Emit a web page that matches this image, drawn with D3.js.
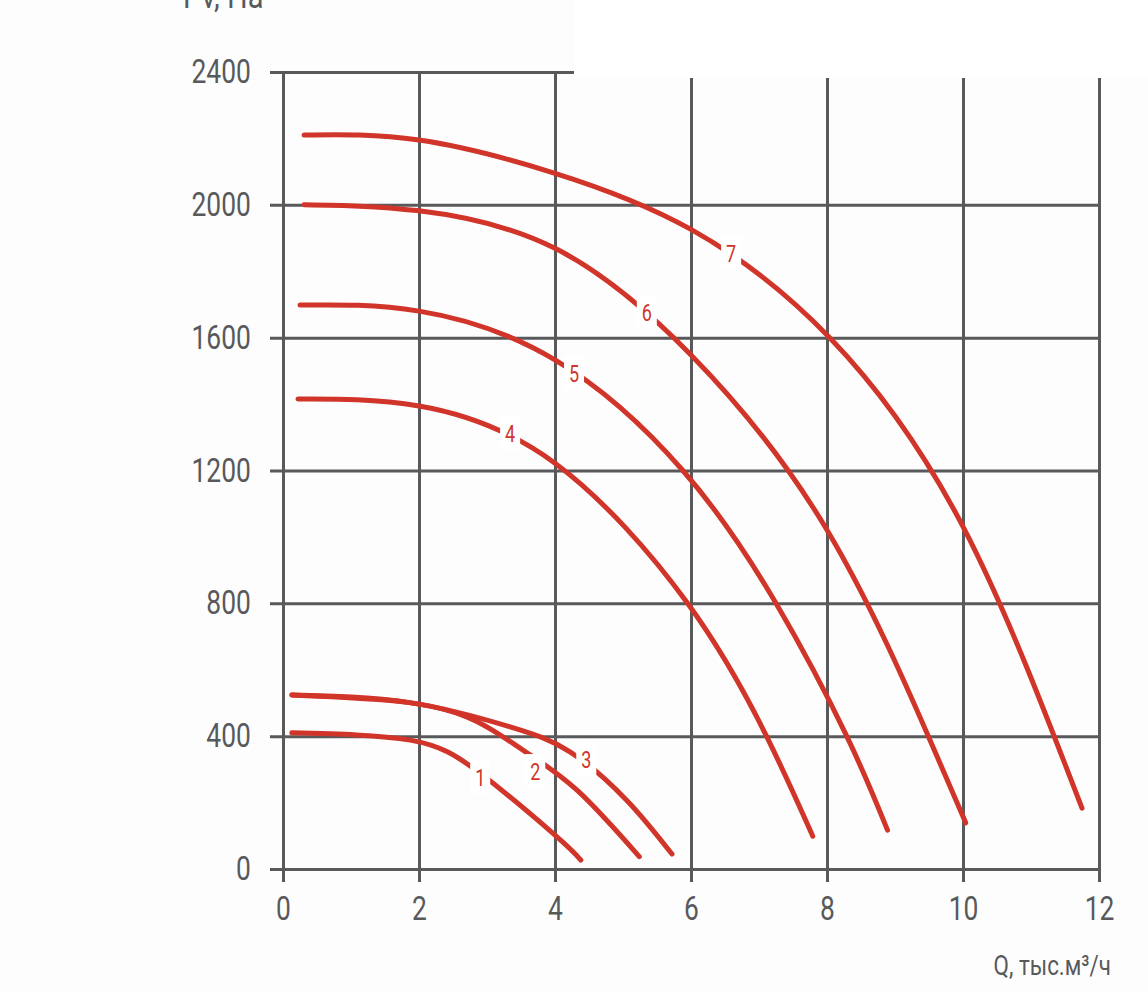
<!DOCTYPE html>
<html>
<head>
<meta charset="utf-8">
<script src="https://cdn.jsdelivr.net/npm/d3@7"></script>
<style>
  html, body { margin: 0; padding: 0; background: #fdfdfd; }
  svg { display: block; }
  text { font-family: Roboto, "Liberation Sans", sans-serif; fill: #58595b; }
</style>
</head>
<body>
<svg id="chart" width="1148" height="991"></svg>
<script>
// ticks
var xTicks = [0, 2, 4, 6, 8, 10, 12];
var yTicks = [0, 400, 800, 1200, 1600, 2000, 2400];

// fan curves, Q in thousand m3/h, Pv in Pa
var curve1 = [[0.13, 410], [1.87, 388], [2.9, 288], [4.0, 102], [4.38, 27]];
var curve2 = [[0.13, 524], [1.86, 501], [2.85, 444], [3.53, 358], [4.32, 238], [5.24, 37]];
var curve3 = [[0.13, 524], [1.86, 501], [3.34, 428], [4.22, 353], [5.05, 208], [5.72, 45]];
var curve4 = [[0.22, 1415], [2.0, 1394], [4.0, 1222], [5.95, 800], [7.11, 400], [7.79, 99]];
var curve5 = [[0.25, 1698], [2.0, 1680], [4.0, 1533], [5.88, 1200], [7.25, 800], [8.29, 400], [8.89, 117]];
var curve6 = [[0.31, 2000], [2.0, 1982], [4.0, 1869], [6.0, 1548], [8.0, 1021], [9.49, 400], [10.04, 139]];
var curve7 = [[0.31, 2210], [2.0, 2195], [4.0, 2095], [6.0, 1926], [8.04, 1600], [10.0, 1031], [11.75, 183]];

var curves = [curve1, curve2, curve3, curve4, curve5, curve6, curve7];
var curveNames = ["1", "2", "3", "4", "5", "6", "7"];
// where each number sits (Q, Pv)
var labelQ = [2.9, 3.71, 4.46, 3.34, 4.28, 5.35, 6.59];
var labelP = [277, 295, 331, 1312, 1494, 1677, 1855];

var xTitle = "Q, тыс.м³/ч";
var yTitle = "Pv, Па";

var svg = d3.select('#chart');
var gridColor = '#58595b';
var red = '#d13429';

var x = d3.scaleLinear().domain([0, 12]).range([283, 1099]);
var y = d3.scaleLinear().domain([0, 2400]).range([869, 72]);

// horizontal grid + y labels
var yAxis = svg.append('g')
  .attr('transform', 'translate(270,0)')
  .call(d3.axisLeft(y).tickValues(yTicks).tickFormat(d3.format('d'))
    .tickSize(-(x(12) - 270)).tickPadding(24));
yAxis.select('.domain').remove();
yAxis.selectAll('line').attr('stroke', gridColor).attr('stroke-width', 3);
yAxis.selectAll('text')
  .attr('font-size', 33).attr('fill', gridColor)
  .attr('transform', 'scale(0.8,1)')
  .style('font-family', 'Roboto');

// vertical grid + x labels
var xAxis = svg.append('g')
  .attr('transform', 'translate(0,882)')
  .call(d3.axisBottom(x).tickValues(xTicks).tickFormat(d3.format('d'))
    .tickSize(-(882 - 72)).tickPadding(15));
xAxis.select('.domain').remove();
xAxis.selectAll('line').attr('stroke', gridColor).attr('stroke-width', 3);
xAxis.selectAll('text')
  .attr('font-size', 33).attr('fill', gridColor)
  .attr('transform', 'scale(0.8,1)')
  .style('font-family', 'Roboto');

// the white patch that cuts the top of the grid on the right
svg.append('rect')
  .attr('x', 574).attr('y', 0).attr('width', 1148 - 574).attr('height', 78)
  .attr('fill', '#ffffff');

// curves
var line = d3.line()
  .x(function (d) { return x(d[0]); })
  .y(function (d) { return y(d[1]); })
  .curve(d3.curveNatural);

svg.append('g').selectAll('path')
  .data(curves)
  .enter()
  .append('path')
  .attr('d', line)
  .attr('fill', 'none')
  .attr('stroke', red)
  .attr('stroke-width', 5)
  .attr('stroke-linecap', 'round');

// curve numbers on white boxes
var labels = svg.append('g').selectAll('g')
  .data(curveNames)
  .enter()
  .append('g')
  .attr('transform', function (d, i) {
    return 'translate(' + x(labelQ[i]) + ',' + y(labelP[i]) + ')';
  });
labels.append('rect')
  .attr('x', -10).attr('y', -17).attr('width', 20).attr('height', 34)
  .attr('fill', '#ffffff');
labels.append('text')
  .attr('text-anchor', 'middle')
  .attr('dy', '0.36em')
  .attr('font-size', 24)
  .attr('transform', 'scale(0.75,1)')
  .style('fill', red)
  .text(function (d) { return d; });

// axis titles
svg.append('text')
  .attr('x', 183 / 0.88).attr('y', 8)
  .attr('font-size', 33)
  .attr('transform', 'scale(0.88,1)')
  .text(yTitle);

svg.append('text')
  .attr('x', 1111 / 0.8).attr('y', 975)
  .attr('text-anchor', 'end')
  .attr('font-size', 28)
  .attr('transform', 'scale(0.8,1)')
  .text(xTitle);
</script>
</body>
</html>
